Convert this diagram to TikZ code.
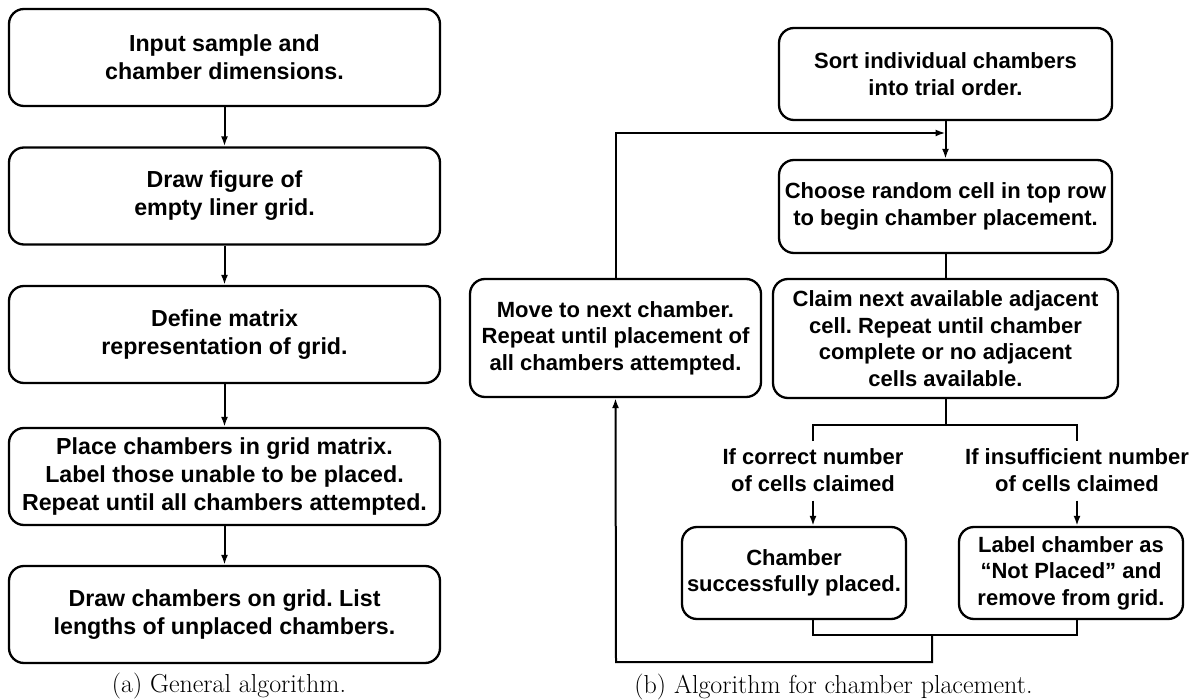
\documentclass[tikz,border=0pt]{standalone}
\usepackage{fontspec}
\newfontfamily\boxfont{Liberation Sans}
\usetikzlibrary{arrows.meta}
\frenchspacing

\begin{document}
\begin{tikzpicture}[x=1pt,y=-1pt,
  box/.style={draw,line width=2.3pt,rounded corners=15pt,align=center,
    font=\boxfont\bfseries\fontsize{22}{26.5}\selectfont,inner sep=0pt},
  bigbox/.style={box,font=\boxfont\bfseries\fontsize{23.2}{28}\selectfont,
    minimum width=431pt,minimum height=97pt},
  cond/.style={align=center,font=\boxfont\bfseries\fontsize{22}{26.5}\selectfont,inner sep=0pt},
  capt/.style={font=\fontsize{26}{28}\selectfont,inner sep=0pt},
  flow/.style={line width=2pt},
  tip/.style={flow,-{Latex[length=10pt,width=7pt]}}]
\useasboundingbox (0,0) rectangle (1194,700);
% (a) general algorithm
\node (a-0) at (224.5,57.5) [bigbox] {Input sample and\\chamber dimensions.};
\node (a-1) at (224.5,196) [bigbox] {Draw figure of\\empty liner grid.};
\node (a-2) at (224.5,334.5) [bigbox] {Define matrix\\representation of grid.};
\node (a-3) at (224.5,476.5) [bigbox] {Place chambers in grid matrix.\\Label those unable to be placed.\\Repeat until all chambers attempted.};
\node (a-4) at (224.5,614.5) [bigbox] {Draw chambers on grid. List\\lengths of unplaced chambers.};
\node (a-cap) at (229,686) [capt] {(a) General algorithm.};
\draw[tip] (a-0) -- (a-1);
\draw[tip] (a-1) -- (a-2);
\draw[tip] (a-2) -- (a-3);
\draw[tip] (a-3) -- (a-4);
% (b) chamber placement
\node (b-sort) at (945.5,74) [box,minimum width=333pt,minimum height=92pt] {Sort individual chambers\\into trial order.};
\node (b-choose) at (945.5,206.5) [box,minimum width=333pt,minimum height=93pt] {Choose random cell in top row\\to begin chamber placement.};
\node (b-claim) at (945.5,338.5) [box,minimum width=345pt,minimum height=119pt] {Claim next available adjacent\\cell. Repeat until chamber\\complete or no adjacent\\cells available.};
\node (b-move) at (615.5,338) [box,minimum width=291pt,minimum height=118pt] {Move to next chamber.\\Repeat until placement of\\all chambers attempted.};
\node (b-ok) at (813,470) [cond] {If correct number\\of cells claimed};
\node (b-fail) at (1077,470) [cond] {If insufficient number\\of cells claimed};
\node (b-placed) at (794,573) [box,minimum width=224pt,minimum height=92pt] {Chamber\\successfully placed.};
\node (b-remove) at (1071,573) [box,minimum width=224pt,minimum height=92pt] {Label chamber as\\“Not Placed” and\\remove from grid.};
\node (b-cap) at (833.5,687) [capt] {(b) Algorithm for chamber placement.};
\coordinate (b-join) at (945.5,133);
\coordinate (b-split) at (945.5,425);
\coordinate (b-merge) at (932,635);
\draw[tip] (b-sort) -- (b-choose);
\draw[tip] (b-move.north) |- (b-join);
\draw[flow] (b-choose) -- (b-claim);
\draw[flow] (b-claim) -- (b-split);
\draw[flow] (813,441) |- (b-split) -| (1077,441);
\draw[tip] ([yshift=-9pt]b-ok.south) -- (b-ok.south |- b-placed.north);
\draw[tip] ([yshift=-9pt]b-fail.south) -- (b-fail.south |- b-remove.north);
\draw[flow] (b-ok.south |- b-placed.south) |- (b-merge) -| (b-fail.south |- b-remove.south);
\draw[tip] (b-merge) |- (616,662) -- (b-move.south);
\end{tikzpicture}
\end{document}
